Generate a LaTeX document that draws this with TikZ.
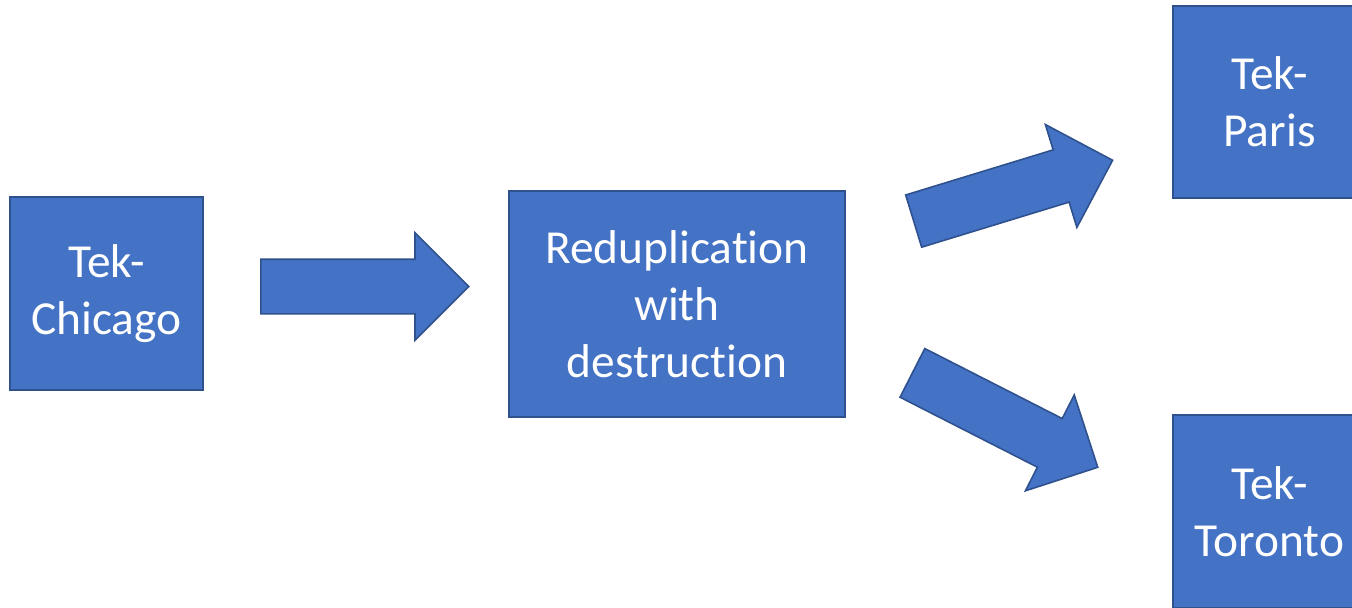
\documentclass[tikz,border=0pt]{standalone}
\usepackage{fontspec}
\setmainfont[Ligatures=NoCommon]{Carlito}
\usetikzlibrary{shapes.arrows}
\definecolor{boxfill}{HTML}{4472C4}
\definecolor{boxline}{HTML}{2F528F}
\tikzset{
  site/.style={draw=boxline, fill=boxfill, line width=0.8pt, text=white, align=center,
    inner sep=0pt, font=\fontsize{23.7}{28.5}\selectfont},
  flow/.style={single arrow, draw=boxline, fill=boxfill, line width=0.8pt, inner xsep=0pt,
    inner ysep=13.25pt, minimum height=104pt, single arrow head extend=13.25pt,
    single arrow tip angle=90, anchor=tail}
}
\begin{document}
\begin{tikzpicture}[x=0.5pt, y=-0.5pt]
\useasboundingbox (0,0) rectangle (1352,607);
\clip (0,0) rectangle (1352,607);
\node[site, minimum width=96.5pt, minimum height=96.5pt] (chicago) at (106.5,293.5) {Tek-\\Chicago};
\node[site, minimum width=168pt, minimum height=113pt] (redup) at (677,304) {Reduplication\\with\\destruction};
\node[site, minimum width=96.5pt, minimum height=96pt] (paris) at (1269.5,102) {Tek-\\Paris};
\node[site, minimum width=96.5pt, minimum height=96.5pt] (toronto) at (1269.5,511.5) {Tek-\\Toronto};
\node[flow] (a1) at (260,286.5) {};
\node[flow, rotate=17] (a2) at (912.9,221.3) {};
\node[flow, rotate=-27] (a3) at (911.7,372.5) {};
\end{tikzpicture}
\end{document}
